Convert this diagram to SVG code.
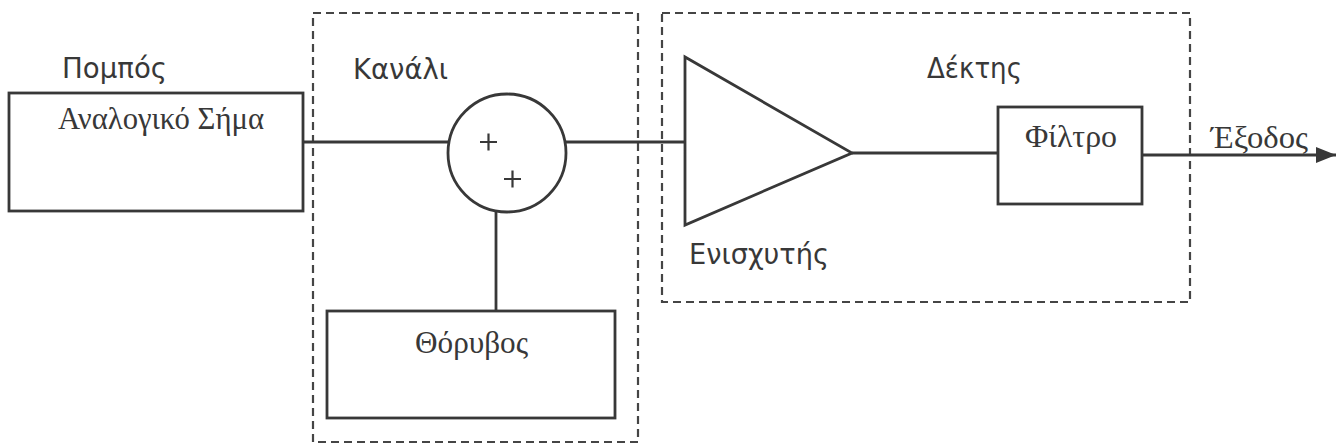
<svg xmlns="http://www.w3.org/2000/svg" width="1337" height="446" viewBox="0 0 1337 446">
  <style>
    .box { fill: none; stroke: #383838; stroke-width: 2.8; }
    .group { fill: none; stroke: #454545; stroke-width: 2.2; stroke-dasharray: 8 5; }
    .wire { fill: none; stroke: #383838; stroke-width: 2.8; }
    .sans { font-family: "DejaVu Sans", "Noto Sans", sans-serif; font-size: 28px; fill: #383838; }
    .serif { font-family: "Liberation Serif", "DejaVu Serif", serif; font-size: 31px; fill: #383838; }
    .sign { fill: none; stroke: #383838; stroke-width: 2.2; }
  </style>
  <defs>
    <marker id="arrow" viewBox="0 0 20 16" refX="20" refY="8" markerWidth="20" markerHeight="16" markerUnits="userSpaceOnUse" orient="auto">
      <path d="M0,0 L20,8 L0,16 z" fill="#383838"/>
    </marker>
  </defs>
  <rect width="1337" height="446" fill="#ffffff"/>

  <!-- dashed subsystem frames -->
  <g id="channel-frame">
    <rect class="group" x="313" y="13" width="325" height="429"/>
    <text class="sans" x="353" y="79" textLength="95" lengthAdjust="spacingAndGlyphs">Κανάλι</text>
  </g>
  <g id="receiver-frame">
    <rect class="group" x="662" y="13" width="528" height="289"/>
    <text class="sans" x="927" y="78" textLength="95" lengthAdjust="spacingAndGlyphs">Δέκτης</text>
  </g>

  <!-- connectors -->
  <g id="connectors">
    <line class="wire" x1="303" y1="142" x2="448" y2="142"/>
    <line class="wire" x1="566" y1="142" x2="685" y2="142"/>
    <line class="wire" x1="496" y1="212" x2="496" y2="311"/>
    <line class="wire" x1="852" y1="153" x2="998" y2="153"/>
    <line class="wire" x1="1142" y1="155" x2="1336" y2="155" marker-end="url(#arrow)"/>
  </g>

  <g id="transmitter">
    <text class="sans" x="62" y="78" textLength="105" lengthAdjust="spacingAndGlyphs">Πομπός</text>
    <rect class="box" x="9" y="93" width="294" height="118"/>
    <text class="serif" x="58" y="129" textLength="206" lengthAdjust="spacingAndGlyphs">Αναλογικό Σήμα</text>
  </g>

  <g id="adder">
    <circle class="box" cx="507" cy="153" r="59"/>
    <!-- summing-junction signs -->
    <path class="sign" d="M480,142 H497 M488.5,133.5 V150.5"/>
    <path class="sign" d="M504,179 H521 M512.5,170.5 V187.5"/>
  </g>

  <g id="noise">
    <rect class="box" x="327" y="311" width="288" height="107"/>
    <text class="serif" x="415" y="353" textLength="113" lengthAdjust="spacingAndGlyphs">Θόρυβος</text>
  </g>

  <g id="amplifier">
    <polygon class="box" points="685,57 685,225 852,153"/>
    <text class="sans" x="689" y="264" textLength="140" lengthAdjust="spacingAndGlyphs">Ενισχυτής</text>
  </g>

  <g id="filter">
    <rect class="box" x="998" y="107" width="144" height="97"/>
    <text class="serif" x="1025" y="147" textLength="92" lengthAdjust="spacingAndGlyphs">Φίλτρο</text>
  </g>

  <g id="output-label">
    <text class="serif" x="1211" y="148" textLength="97" lengthAdjust="spacingAndGlyphs">Έξοδος</text>
  </g>
</svg>
